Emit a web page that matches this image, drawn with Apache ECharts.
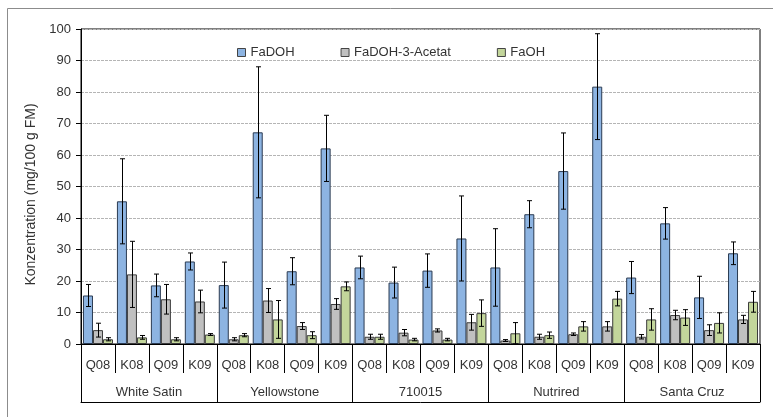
<!DOCTYPE html>
<html>
<head>
<meta charset="utf-8">
<script src="https://cdn.jsdelivr.net/npm/echarts@6/dist/echarts.min.js"></script>
<style>
html,body{margin:0;padding:0;background:#fff;}
#c{width:773px;height:417px;}
</style>
</head>
<body>
<div id="c"></div>
<script>
var subCategories = ['Q08','K08','Q09','K09','Q08','K08','Q09','K09','Q08','K08','Q09','K09','Q08','K08','Q09','K09','Q08','K08','Q09','K09'];
var groups = ['White Satin','Yellowstone','710015','Nutrired','Santa Cruz'];
var seriesNames = ['FaDOH','FaDOH-3-Acetat','FaOH'];

var faDOH     = [15.4,45.3,18.6,26.2, 18.7,67.2,23.1,62.1, 24.3,19.5,23.3,33.5, 24.3,41.2,54.9,81.7, 21.1,38.3,14.8,28.8];
var faDOHErr  = [3.5,13.5,3.6,2.7, 7.3,20.8,4.3,10.5, 3.6,4.9,5.3,13.5, 12.3,4.3,12.1,16.8, 5.1,5.0,6.7,3.6];
var acetat    = [4.4,22.1,14.2,13.5, 1.5,13.8,5.7,12.7, 2.3,3.6,4.3,6.9, 1.1,2.3,3.1,5.6, 2.3,9.2,4.4,7.8];
var acetatErr = [2.2,10.5,4.7,3.6, 0.5,3.8,1.1,1.7, 0.8,1.0,0.5,2.5, 0.3,0.8,0.4,1.5, 0.7,1.5,1.7,1.3];
var faOH      = [1.5,2.1,1.5,3.0, 2.8,7.8,2.8,18.3, 2.3,1.4,1.4,9.8, 3.4,2.8,5.6,14.4, 7.8,8.4,6.7,13.4];
var faOHErr   = [0.5,0.6,0.5,0.3, 0.5,6.0,1.1,1.4, 0.8,0.4,0.4,4.2, 3.4,1.0,1.5,2.3, 3.4,2.5,3.2,3.3];

var yTicks = {min:0, max:100, interval:10};

var colors = ['#8DB4E2','#C0C0C0','#C3D69B'];
var borders = ['#2b3b52','#3a3a3a','#3a3a3a'];
var values = [faDOH, acetat, faOH];
var errors = [faDOHErr, acetatErr, faOHErr];
var offsets = [-10, 0, 10];

function errSeries(k){
  var d = values[k].map(function(v,i){ return [i, v, errors[k][i]]; });
  return {
    type:'custom', xAxisIndex:0, yAxisIndex:0, z:10, silent:true,
    encode:{x:0,y:1},
    data:d,
    renderItem:function(params, api){
      var i = api.value(0), v = api.value(1), e = api.value(2);
      var top = api.coord([i, v+e]);
      var bot = api.coord([i, Math.max(0, v-e)]);
      var x = Math.round(top[0] + offsets[k]) + 0.5;
      var cw = 2.5;
      var st = {stroke:'#000', lineWidth:1};
      return {type:'group', children:[
        {type:'line', shape:{x1:x,y1:top[1],x2:x,y2:bot[1]}, style:st},
        {type:'line', shape:{x1:x-cw,y1:top[1],x2:x+cw,y2:top[1]}, style:st},
        {type:'line', shape:{x1:x-cw,y1:bot[1],x2:x+cw,y2:bot[1]}, style:st}
      ]};
    }
  };
}

var series = [];
for (var k=0;k<3;k++){
  series.push({
    name:seriesNames[k], type:'bar', xAxisIndex:0, yAxisIndex:0,
    data:values[k], barWidth:10, barGap:'0%',
    itemStyle:{color:colors[k], borderColor:borders[k], borderWidth:1},
    animation:false
  });
}
for (var k=0;k<3;k++) series.push(errSeries(k));

var chart = echarts.init(document.getElementById('c'), null, {renderer:'canvas'});
chart.setOption({
  animation:false,
  backgroundColor:'#fff',
  textStyle:{fontFamily:'Liberation Sans, Arial, sans-serif'},
  graphic:[{type:'rect', shape:{x:7.5,y:8.5,width:800,height:500}, style:{fill:'none', stroke:'#8c8c8c', lineWidth:1}, silent:true, z:-1}],
  legend:{
    data:seriesNames, left:232, top:41, icon:'rect', itemWidth:8, itemHeight:8, itemGap:46,
    textStyle:{fontSize:13, color:'#333', fontFamily:'Liberation Sans, Arial, sans-serif'},
    itemStyle:{borderColor:'#444', borderWidth:1}
  },
  grid:{left:81, right:13, top:29, bottom:73, show:true, borderColor:'#000', borderWidth:1, containLabel:false},
  xAxis:[{
    type:'category', data:subCategories, position:'bottom',
    axisLine:{lineStyle:{color:'#000'}},
    axisTick:{show:true, length:29, interval:0, lineStyle:{color:'#000'}},
    axisLabel:{interval:0, margin:15, fontSize:13, color:'#333'}
  },{
    type:'category', data:groups, position:'bottom', offset:58,
    axisLine:{lineStyle:{color:'#000'}},
    axisTick:{show:true, inside:true, length:58, interval:0, lineStyle:{color:'#000'}},
    axisLabel:{inside:true, interval:0, margin:3, fontSize:13, color:'#333'}
  }],
  yAxis:{
    type:'value', min:yTicks.min, max:yTicks.max, interval:yTicks.interval,
    name:'Konzentration (mg/100 g FM)', nameLocation:'middle', nameGap:33,
    nameTextStyle:{fontSize:14, color:'#333', padding:[0,16,0,0]},
    axisLine:{show:true, lineStyle:{color:'#000'}},
    axisTick:{show:true, length:5, lineStyle:{color:'#000'}},
    axisLabel:{fontSize:13, color:'#333', margin:10},
    splitLine:{lineStyle:{color:'#b5b5b5', type:[3,1]}}
  },
  series:series
});
</script>
</body>
</html>
